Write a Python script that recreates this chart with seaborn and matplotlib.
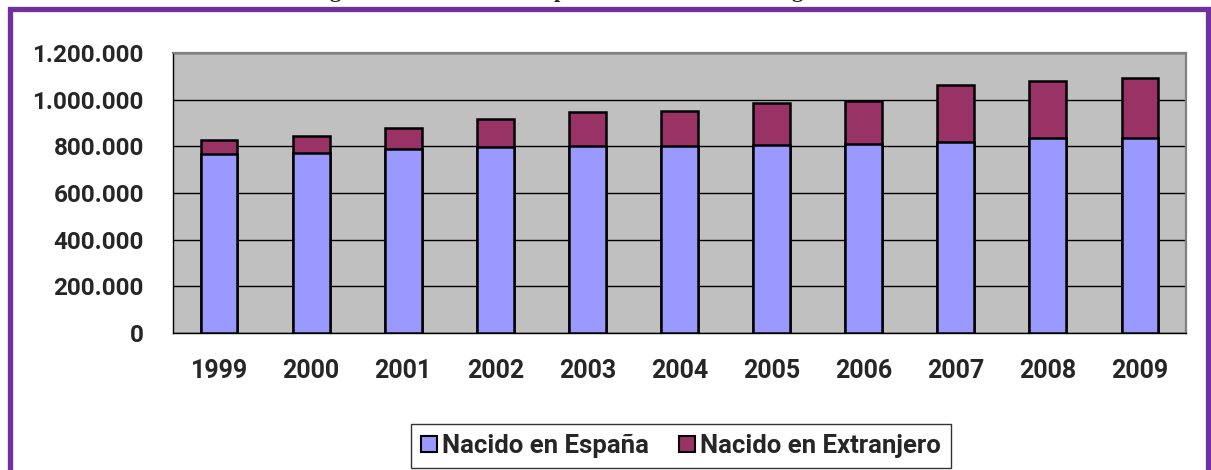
import matplotlib
matplotlib.use("Agg")
import matplotlib.pyplot as plt
from matplotlib.patches import Rectangle
from matplotlib.ticker import FuncFormatter, FixedLocator
import seaborn as sns
import pandas as pd

# datos (afiliados)
anios = ["1999", "2000", "2001", "2002", "2003", "2004",
         "2005", "2006", "2007", "2008", "2009"]
nacido_espana = [767000, 770000, 787000, 797000, 800000, 801000,
                 806000, 810000, 817000, 836000, 834000]
nacido_extranjero = [60000, 74000, 90000, 121000, 146000, 151000,
                     180000, 186000, 246000, 244000, 260000]

titulo = "Figura 3. Evolución de la población afiliada a la Seguridad Social"
etiquetas = ["Nacido en España", "Nacido en Extranjero"]
color_esp = "#9999FF"
color_ext = "#993366"

df = pd.DataFrame({"anio": anios, "espana": nacido_espana,
                   "extranjero": nacido_extranjero})
df["total"] = df["espana"] + df["extranjero"]

sns.set_style("white")
plt.rcParams["font.family"] = ["Roboto", "DejaVu Sans"]

W, H = 1211, 470
fig = plt.figure(figsize=(W / 100, H / 100), dpi=100)
ax = fig.add_axes([173 / W, 1 - 333 / H, (1186 - 173) / W, (333 - 53) / H])
ax.set_facecolor("#C0C0C0")

# barras apiladas: primero el total, encima la parte de Espana
sns.barplot(data=df, x="anio", y="total", color=color_ext, width=0.4,
            edgecolor="black", linewidth=1.8, saturation=1, ax=ax, zorder=3)
sns.barplot(data=df, x="anio", y="espana", color=color_esp, width=0.4,
            edgecolor="black", linewidth=1.8, saturation=1, ax=ax, zorder=4)

ax.set_ylim(0, 1200000)
ax.set_xlim(-0.5, len(anios) - 0.5)
ax.set_yticks(range(0, 1200001, 200000))
ax.yaxis.set_major_formatter(FuncFormatter(lambda v, p: f"{int(v):,}".replace(",", ".")))
ax.grid(axis="y", color="black", linewidth=1.0, zorder=0)
ax.set_axisbelow(True)
ax.set_xlabel("")
ax.set_ylabel("")

# ticks del eje x en los limites de categoria
ax.xaxis.set_minor_locator(FixedLocator([i - 0.5 for i in range(len(anios) + 1)]))
ax.tick_params(axis="x", which="major", length=0, pad=19)
ax.tick_params(axis="x", which="minor", length=8, width=1, color="black")
ax.tick_params(axis="y", length=8, width=1, color="black", pad=13)
for lab in ax.get_xticklabels():
    lab.set_fontsize(18)
    lab.set_fontweight("bold")
for lab in ax.get_yticklabels():
    lab.set_fontsize(17.5)
    lab.set_fontweight("bold")

for s in ["left", "bottom"]:
    ax.spines[s].set_color("black")
    ax.spines[s].set_linewidth(1.0)
for s in ["top", "right"]:
    ax.spines[s].set_color("#808080")
    ax.spines[s].set_linewidth(1.6)

# leyenda
handles = [Rectangle((0, 0), 1, 1, facecolor=color_esp, edgecolor="black", linewidth=1.5),
           Rectangle((0, 0), 1, 1, facecolor=color_ext, edgecolor="black", linewidth=1.5)]
leg = fig.legend(handles, etiquetas, loc="center", ncol=2,
                 bbox_to_anchor=(681 / W, 1 - 446 / H),
                 prop={"weight": "bold", "size": 18.5},
                 frameon=True, fancybox=False, handlelength=0.6, handleheight=0.6,
                 handletextpad=0.2, columnspacing=1.2, borderpad=0.4,
                 borderaxespad=0)
leg.get_frame().set_edgecolor("black")
leg.get_frame().set_linewidth(1.0)

# marco morado exterior
fig.add_artist(Rectangle((10 / W, -0.1), (1208 - 10) / W, 1.1 - 9 / H,
                         transform=fig.transFigure, fill=False,
                         edgecolor="#7030A0", linewidth=3.8, clip_on=False))

# titulo cortado en la parte superior (asi aparece en la referencia)
fig.text(620 / W, 1 + 3 / H, titulo, ha="center", va="baseline",
         fontsize=16, fontweight="bold", family=["Liberation Serif"])

fig.savefig("out.png", dpi=100)
